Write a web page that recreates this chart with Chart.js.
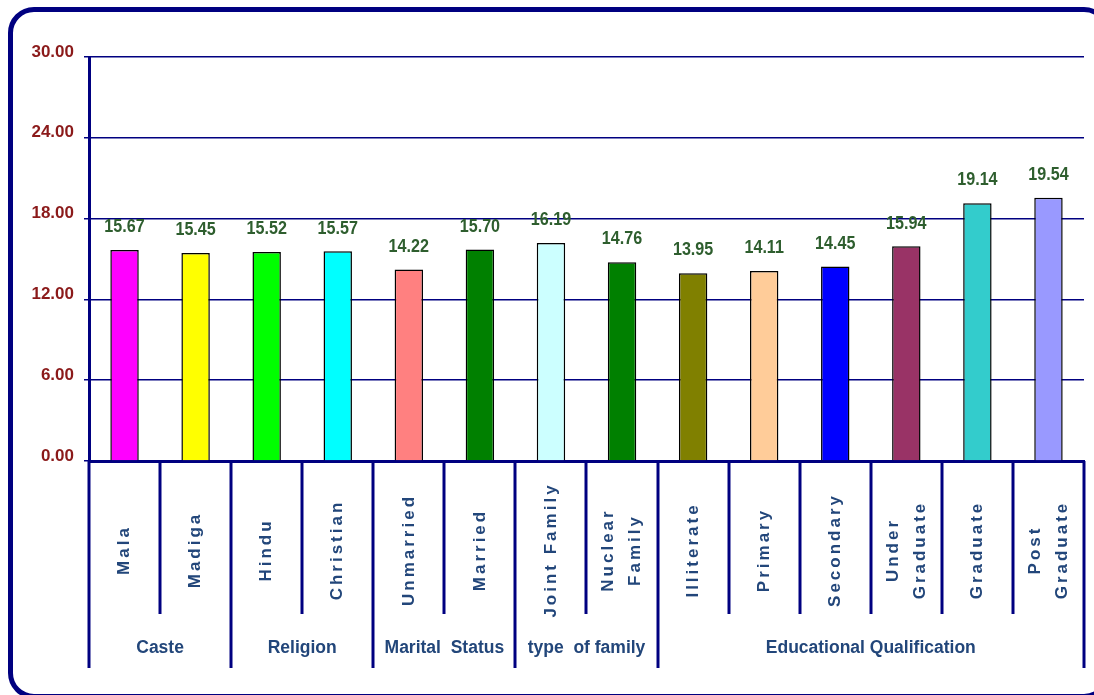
<!DOCTYPE html>
<html>
<head>
<meta charset="utf-8">
<script src="https://cdn.jsdelivr.net/npm/chart.js@4.4.1/dist/chart.umd.min.js"></script>
<style>
  html, body { margin: 0; padding: 0; background: #fff; overflow: hidden; }
  #wrap { position: relative; width: 1094px; height: 695px; overflow: hidden; }
  #frame {
    position: absolute; left: 8px; top: 7px; width: 1092px; height: 682px;
    border: 5px solid #000080; border-radius: 26px;
  }
  #stressChart { position: absolute; left: 0; top: 0; }
</style>
</head>
<body>
<div id="wrap">
  <div id="frame"></div>
  <canvas id="stressChart" width="1094" height="695"></canvas>
</div>
<script>
// categories, values and bar colours
const categories = [
  ["Mala"], ["Madiga"], ["Hindu"], ["Christian"], ["Unmarried"], ["Married"],
  ["Joint Family"], ["Nuclear", "Family"], ["Illiterate"], ["Primary"],
  ["Secondary"], ["Under", "Graduate"], ["Graduate"], ["Post", "Graduate"]
];
const scores = [15.67, 15.45, 15.52, 15.57, 14.22, 15.70, 16.19, 14.76, 13.95, 14.11, 14.45, 15.94, 19.14, 19.54];
const barColors = [
  "#FF00FF", "#FFFF00", "#00FF00", "#00FFFF", "#FF8080", "#008000", "#CCFFFF",
  "#008000", "#808000", "#FFCC99", "#0000FF", "#993366", "#33CCCC", "#9999FF"
];
const groupNames = ["Caste", "Religion", "Marital  Status", "type  of family", "Educational Qualification"];
const groupSizes = [2, 2, 2, 2, 6];
const yTicks = [0, 6, 12, 18, 24, 30];

const NAVY = "#000080";
const LABEL_BLUE = "#22467a";
const FONT = "'Liberation Sans', Arial, sans-serif";

// value labels above each bar (slightly condensed)
const valueLabels = {
  id: "valueLabels",
  afterDatasetsDraw(chart) {
    const ctx = chart.ctx;
    const meta = chart.getDatasetMeta(0);
    ctx.save();
    ctx.font = "bold 19px " + FONT;
    ctx.fillStyle = "#2e5e2e";
    ctx.textAlign = "center";
    ctx.textBaseline = "middle";
    meta.data.forEach((bar, i) => {
      ctx.save();
      ctx.translate(bar.x, bar.y - 23);
      ctx.scale(0.85, 1);
      ctx.fillText(scores[i].toFixed(2), 0, 0);
      ctx.restore();
    });
    ctx.restore();
  }
};

// two-level category axis: rotated item names, separators, group names
const groupAxis = {
  id: "groupAxis",
  afterDraw(chart) {
    const ctx = chart.ctx;
    const xs = chart.scales.x;
    const step = xs.width / categories.length;
    const top = xs.top;
    const shortEnd = 614;
    const longEnd = 668;

    // boundaries between groups
    const groupEdges = [0];
    groupSizes.forEach(n => groupEdges.push(groupEdges[groupEdges.length - 1] + n));

    ctx.save();
    ctx.strokeStyle = NAVY;
    ctx.lineWidth = 3;
    for (let b = 0; b <= categories.length; b++) {
      const x = Math.round(xs.getPixelForValue(b) - step / 2);
      const end = groupEdges.includes(b) ? longEnd : shortEnd;
      ctx.beginPath();
      ctx.moveTo(x, top);
      ctx.lineTo(x, end);
      ctx.stroke();
    }

    // item names, rotated
    ctx.fillStyle = LABEL_BLUE;
    ctx.font = "bold 17px " + FONT;
    ctx.letterSpacing = "3px";
    ctx.textAlign = "center";
    ctx.textBaseline = "middle";
    categories.forEach((lines, i) => {
      const x = xs.getPixelForValue(i);
      ctx.save();
      ctx.translate(x, 550);
      ctx.rotate(-Math.PI / 2);
      lines.forEach((line, k) => {
        ctx.fillText(line, 0, (k - (lines.length - 1) / 2) * 27);
      });
      ctx.restore();
    });

    // group names
    ctx.font = "bold 17.5px " + FONT;
    ctx.letterSpacing = "0px";
    groupNames.forEach((name, g) => {
      const a = xs.getPixelForValue(groupEdges[g]) - step / 2;
      const b = xs.getPixelForValue(groupEdges[g + 1]) - step / 2;
      ctx.fillText(name, (a + b) / 2, 648);
    });
    ctx.restore();
  }
};

const ctx = document.getElementById("stressChart").getContext("2d");
new Chart(ctx, {
  type: "bar",
  data: {
    labels: categories.map(c => c.join(" ")),
    datasets: [{
      data: scores,
      backgroundColor: barColors,
      borderColor: "#000000",
      borderWidth: 1.5,
      barPercentage: 0.4,
      categoryPercentage: 1
    }]
  },
  options: {
    responsive: false,
    animation: false,
    layout: { padding: { top: 57, right: 10, left: 0, bottom: 0 } },
    plugins: {
      legend: { display: false },
      tooltip: { enabled: false }
    },
    scales: {
      x: {
        ticks: { display: false },
        grid: { display: false },
        border: { color: NAVY, width: 3 },
        afterFit(scale) { scale.height = 234; }
      },
      y: {
        min: 0,
        max: 30,
        afterBuildTicks(scale) { scale.ticks = yTicks.map(v => ({ value: v })); },
        ticks: {
          color: "#8b1a1a",
          font: { family: FONT, size: 17, weight: "bold" },
          padding: 10,
          labelOffset: -5,
          callback: v => v.toFixed(2)
        },
        grid: { color: NAVY, lineWidth: 1.5, tickLength: 5 },
        border: { color: NAVY, width: 3 },
        afterFit(scale) { scale.width = 89; }
      }
    }
  },
  plugins: [valueLabels, groupAxis]
});
</script>
</body>
</html>
